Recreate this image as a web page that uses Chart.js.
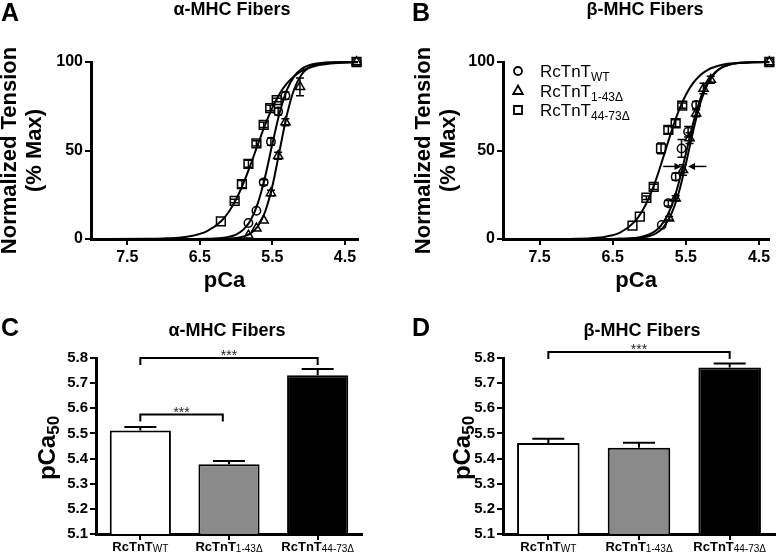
<!DOCTYPE html>
<html>
<head>
<meta charset="utf-8">
<script src="https://cdn.jsdelivr.net/npm/chart.js@4.4.1/dist/chart.umd.min.js"></script>
<style>
  body { margin: 0; background: #fff; width: 777px; height: 556px; overflow: hidden; position: relative;
         font-family: Arial, "Liberation Sans", sans-serif; }
  canvas { position: absolute; }
  .lbl { position: absolute; font-weight: bold; color: #000; line-height: 1; z-index: 2; }
  .letter { font-size: 25px; }
  .ttl { font-size: 18px; width: 200px; text-align: center; }
</style>
</head>
<body>
<div class="lbl letter" style="left:1px;top:0">A</div>
<div class="lbl letter" style="left:412px;top:0">B</div>
<div class="lbl letter" style="left:1px;top:315px">C</div>
<div class="lbl letter" style="left:412px;top:315px">D</div>
<div class="lbl ttl" style="left:132px;top:0">α-MHC Fibers</div>
<div class="lbl ttl" style="left:545px;top:0">β-MHC Fibers</div>
<div class="lbl ttl" style="left:127px;top:321px">α-MHC Fibers</div>
<div class="lbl ttl" style="left:542px;top:321px">β-MHC Fibers</div>

<canvas id="chartA" width="392" height="300" style="left:-2px;top:0"></canvas>
<canvas id="chartB" width="389" height="300" style="left:388px;top:0"></canvas>
<canvas id="chartC" width="390" height="256" style="left:0;top:300px"></canvas>
<canvas id="chartD" width="389" height="256" style="left:388px;top:300px"></canvas>

<script>
// ---- data ----
const pcaTicks = [7.5, 6.5, 5.5, 4.5];
const tensionTicks = [0, 50, 100];
const pcaMax = 8.0;

// panel A, alpha-MHC: measured points (pCa, % max tension, sem)
const aWtPca = [5.83, 5.72, 5.62, 5.52, 5.42, 5.32, 4.34];
const aWtT   = [9, 16, 32, 55, 72, 81, 100];
const aWtErr = [0, 0, 1.5, 2, 2, 2, 0];
const aD1Pca = [5.83, 5.72, 5.62, 5.52, 5.42, 5.32, 5.12, 4.34];
const aD1T   = [2, 6, 10.5, 26, 47, 66, 86, 100];
const aD1Err = [0, 0, 0, 1.5, 2, 2, 5, 0];
const aD2Pca = [6.21, 6.02, 5.92, 5.83, 5.72, 5.62, 5.53, 5.44, 4.34];
const aD2T   = [10, 21.5, 31, 42.5, 54, 64.5, 74, 78.5, 100];
const aD2Err = [0, 1, 2, 2, 1.5, 1.5, 1.5, 1, 0];

// panel A fitted curves, read at fixed pCa steps
const aFitPca = [8.0, 7.2, 7.0, 6.8, 6.6, 6.4, 6.2, 6.1, 6.0, 5.9, 5.8, 5.7, 5.6, 5.5, 5.4, 5.3, 5.2, 5.1, 5.0, 4.9, 4.8, 4.6, 4.32];
const aFitWt = [0, 0, 0, 0, 0.03, 0.13, 0.6, 1.2, 2.5, 5.3, 10.6, 20.3, 35.2, 53.8, 71.3, 84.2, 91.9, 96, 98.1, 99.1, 99.6, 99.9, 100];
const aFitD1 = [0, 0, 0, 0, 0, 0.02, 0.11, 0.26, 0.6, 1.4, 3.2, 7.2, 15.4, 29.9, 50, 70.1, 84.6, 92.8, 96.8, 98.6, 99.4, 99.9, 100];
const aFitD2 = [0, 0.1, 0.3, 0.7, 1.8, 4.4, 10.3, 15.4, 22.4, 31.4, 42, 53.5, 64.5, 74.2, 82, 87.9, 92, 94.8, 96.6, 97.9, 98.6, 99.45, 99.85];

// panel B, beta-MHC: measured points
const bWtPca = [5.83, 5.74, 5.64, 5.56, 5.47, 5.36, 4.36];
const bWtT   = [7.9, 20.2, 35.2, 51.2, 60.6, 75.7, 100];
const bWtErr = [0, 1.5, 2, 5, 3, 2, 0];
const bD1Pca = [5.73, 5.64, 5.54, 5.45, 5.36, 5.26, 5.16, 4.36];
const bD1T   = [11.7, 23, 39, 57, 71, 85, 90, 100];
const bD1Err = [1, 1.5, 3, 3, 2, 3, 2, 0];
const bD2Pca = [6.23, 6.13, 6.04, 5.94, 5.84, 5.74, 5.64, 5.55, 4.36];
const bD2T   = [7.5, 12.6, 23.3, 29.5, 51.2, 61.6, 65.4, 75.3, 100];
const bD2Err = [0, 0, 1, 1.5, 3, 2, 2, 1.5, 0];

const bFitPca = [8.0, 7.2, 7.0, 6.8, 6.6, 6.4, 6.2, 6.1, 6.0, 5.9, 5.8, 5.7, 5.6, 5.5, 5.4, 5.3, 5.2, 5.1, 5.0, 4.9, 4.8, 4.6, 4.36];
const bFitWt = [0, 0, 0, 0, 0.03, 0.15, 0.63, 1.3, 2.6, 5.1, 9.9, 18.3, 31.4, 48.3, 65.5, 79.5, 88.8, 94.2, 97.1, 98.6, 99.3, 99.8, 100];
const bFitD1 = [0, 0, 0, 0, 0.02, 0.08, 0.36, 0.8, 1.6, 3.4, 7, 14, 25.8, 42.5, 61.2, 77.1, 87.8, 93.9, 97.1, 98.6, 99.4, 99.9, 100];
const bFitD2 = [0, 0.05, 0.16, 0.45, 1.3, 3.6, 9.8, 15.5, 23.8, 34.6, 47.4, 60.4, 72.2, 81.5, 88.2, 92.7, 95.6, 97.3, 98.4, 99.1, 99.4, 99.8, 99.9];

// arrows in panel B (pCa from -> to, at tension level)
const arrowFrom = [5.81, 5.22];
const arrowTo = [5.56, 5.47];
const arrowLevel = 41;

// legend / groups
const groupMain = ['RcTnT', 'RcTnT', 'RcTnT'];
const groupSub = ['WT', '1-43Δ', '44-73Δ'];
const groupStyle = ['circle', 'triangle', 'rect'];

// pCa50 bars
const cPca50 = [5.512, 5.377, 5.731];
const cSem = [0.014, 0.013, 0.025];
const dPca50 = [5.462, 5.443, 5.762];
const dSem = [0.017, 0.02, 0.016];
const barFill = ['#ffffff', '#8a8a8a', '#000000'];

// significance brackets (category index from/to, level)
const cBrFrom = [0, 0], cBrTo = [2, 0.93], cBrLevel = [5.8, 5.575];
const dBrFrom = [0], dBrTo = [2], dBrLevel = [5.824];

const FONT = 'Arial, "Liberation Sans", sans-serif';
Chart.defaults.font.family = FONT;
Chart.defaults.color = '#000';

function pts(xs, ys) { return xs.map((x, i) => ({ x: x, y: ys[i] })); }

function marker(ctx, style, x, y) {
  ctx.beginPath();
  if (style === 'circle') ctx.arc(x, y, 4, 0, Math.PI * 2);
  else if (style === 'triangle') { ctx.moveTo(x, y - 5); ctx.lineTo(x + 4.8, y + 3.5); ctx.lineTo(x - 4.8, y + 3.5); ctx.closePath(); }
  else ctx.rect(x - 4, y - 4, 8, 8);
  ctx.stroke();
}

function subText(ctx, x, y, main, sub, mainFont, subFont, drop, align) {
  ctx.font = mainFont; const w1 = ctx.measureText(main).width;
  ctx.font = subFont; const w2 = ctx.measureText(sub).width;
  let x0 = align === 'center' ? x - (w1 + w2) / 2 : x;
  ctx.textAlign = 'left'; ctx.textBaseline = 'alphabetic';
  ctx.font = mainFont; ctx.fillText(main, x0, y);
  ctx.font = subFont; ctx.fillText(sub, x0 + w1, y + drop);
}

const errorBars = {
  id: 'errorBars',
  afterDatasetsDraw(chart) {
    const ctx = chart.ctx, ys = chart.scales.y;
    chart.data.datasets.forEach((ds, i) => {
      if (!ds.err) return;
      const meta = chart.getDatasetMeta(i);
      ctx.save(); ctx.strokeStyle = '#000'; ctx.lineWidth = 1.5;
      ds.err.forEach((e, j) => {
        if (!e) return;
        const p = meta.data[j], v = ds.data[j].y;
        const y1 = ys.getPixelForValue(v - e), y2 = ys.getPixelForValue(v + e);
        ctx.beginPath();
        ctx.moveTo(p.x, y1); ctx.lineTo(p.x, y2);
        ctx.moveTo(p.x - 4, y1); ctx.lineTo(p.x + 4, y1);
        ctx.moveTo(p.x - 4, y2); ctx.lineTo(p.x + 4, y2);
        ctx.stroke();
      });
      ctx.restore();
    });
  }
};

function curveChart(id, c) {
  const datasets = [];
  c.fits.forEach(f => datasets.push({
    data: pts(c.fitPca, f), showLine: true, borderColor: '#000', borderWidth: 2,
    pointRadius: 0, cubicInterpolationMode: 'monotone', clip: false
  }));
  c.points.forEach((p, k) => datasets.push({
    data: pts(p.pca, p.t), showLine: false, pointStyle: groupStyle[k],
    pointRadius: [4.2, 5.3, 6.2][k], pointBorderWidth: 1.5, borderColor: '#000',
    backgroundColor: 'rgba(0,0,0,0)', err: p.err, clip: false
  }));
  const grid = { drawOnChartArea: false, tickLength: 6, lineWidth: 2, color: '#000' };
  const border = { color: '#000', width: 3 };
  return new Chart(document.getElementById(id), {
    type: 'scatter',
    data: { datasets: datasets },
    options: {
      responsive: false, animation: false, events: [],
      layout: { padding: { left: 0, top: 62, right: c.padRight, bottom: 6 } },
      plugins: { legend: { display: false }, tooltip: { enabled: false } },
      scales: {
        x: {
          type: 'linear', reverse: true, min: c.xMin, max: pcaMax,
          afterBuildTicks: s => { s.ticks = pcaTicks.map(v => ({ value: v })); },
          ticks: { font: { size: 16, weight: 'bold' }, padding: 3, maxRotation: 0, callback: v => v.toFixed(1) },
          grid: grid, border: border,
          title: { display: true, text: 'pCa', font: { size: 22, weight: 'bold' }, padding: 0 },
          afterFit: s => { s.height = 55; }
        },
        y: {
          min: 0, max: 100,
          afterBuildTicks: s => { s.ticks = tensionTicks.map(v => ({ value: v })); },
          ticks: { font: { size: 16, weight: 'bold' }, padding: 2 },
          grid: grid, border: border,
          title: { display: true, text: ['Normalized Tension', '(% Max)'],
                   font: { size: 22, weight: 'bold', lineHeight: 1.12 }, padding: { top: c.yTitlePad, bottom: 0 } },
          afterFit: s => { s.width = c.yWidth; }
        }
      }
    },
    plugins: [errorBars].concat(c.extra || [])
  });
}

const panelBExtras = {
  id: 'panelBExtras',
  afterDraw(chart) {
    const ctx = chart.ctx, xs = chart.scales.x, ys = chart.scales.y, a = chart.chartArea;
    ctx.save();
    // legend
    ctx.strokeStyle = '#000'; ctx.fillStyle = '#000'; ctx.lineWidth = 1.8;
    groupMain.forEach((m, i) => {
      const base = a.top + 15 + i * 19.5;
      marker(ctx, groupStyle[i], a.left + 15, base - 6);
      subText(ctx, a.left + 37, base, m, groupSub[i], '17px ' + FONT, '12px ' + FONT, 4, 'left');
    });
    // arrows
    ctx.lineWidth = 1.5;
    const y = ys.getPixelForValue(arrowLevel);
    arrowFrom.forEach((f, i) => {
      const x1 = xs.getPixelForValue(f), x2 = xs.getPixelForValue(arrowTo[i]);
      const d = Math.sign(x2 - x1);
      ctx.beginPath(); ctx.moveTo(x1, y); ctx.lineTo(x2 - d * 4, y); ctx.stroke();
      ctx.beginPath(); ctx.moveTo(x2, y); ctx.lineTo(x2 - d * 7, y - 3.5); ctx.lineTo(x2 - d * 7, y + 3.5); ctx.closePath(); ctx.fill();
    });
    ctx.restore();
  }
};

curveChart('chartA', {
  xMin: 4.32, padRight: 32, yWidth: 93, yTitlePad: 0, fitPca: aFitPca,
  fits: [aFitWt, aFitD1, aFitD2],
  points: [{ pca: aWtPca, t: aWtT, err: aWtErr }, { pca: aD1Pca, t: aD1T, err: aD1Err }, { pca: aD2Pca, t: aD2T, err: aD2Err }]
});
curveChart('chartB', {
  xMin: 4.36, padRight: 6, yWidth: 115, yTitlePad: 24, fitPca: bFitPca,
  fits: [bFitWt, bFitD1, bFitD2],
  points: [{ pca: bWtPca, t: bWtT, err: bWtErr }, { pca: bD1Pca, t: bD1T, err: bD1Err }, { pca: bD2Pca, t: bD2T, err: bD2Err }],
  extra: [panelBExtras]
});

function barDecor(c) {
  return {
    id: 'barDecor',
    afterDatasetsDraw(chart) {
      const ctx = chart.ctx, xs = chart.scales.x, ys = chart.scales.y, a = chart.chartArea;
      const meta = chart.getDatasetMeta(0);
      ctx.save();
      ctx.strokeStyle = '#000'; ctx.fillStyle = '#000'; ctx.lineWidth = 2;
      // sem (upper only)
      c.values.forEach((v, j) => {
        const x = meta.data[j].x, y1 = ys.getPixelForValue(v), y2 = ys.getPixelForValue(v + c.sem[j]);
        ctx.beginPath(); ctx.moveTo(x, y1); ctx.lineTo(x, y2); ctx.moveTo(x - 16, y2); ctx.lineTo(x + 16, y2); ctx.stroke();
      });
      // brackets
      c.brFrom.forEach((f, i) => {
        const x1 = xs.getPixelForValue(f), x2 = xs.getPixelForValue(c.brTo[i]);
        const y = ys.getPixelForValue(c.brLevel[i]), yd = ys.getPixelForValue(c.brLevel[i] - 0.028);
        ctx.beginPath(); ctx.moveTo(x1, yd); ctx.lineTo(x1, y); ctx.lineTo(x2, y); ctx.lineTo(x2, yd); ctx.stroke();
        ctx.fillStyle = '#222'; ctx.font = '14px ' + FONT; ctx.textAlign = 'center'; ctx.textBaseline = 'alphabetic';
        ctx.fillText('***', (x1 + x2) / 2, y + 2);
        ctx.fillStyle = '#000';
      });
      // category labels with subscripts
      groupMain.forEach((m, j) => {
        subText(ctx, meta.data[j].x, a.bottom + 17, m, groupSub[j], 'bold 13px ' + FONT, '10px ' + FONT, 1, 'center');
      });
      // y title pCa50
      ctx.translate(a.left - c.titleOff, (a.top + a.bottom) / 2 + 2);
      ctx.rotate(-Math.PI / 2);
      subText(ctx, 0, 0, 'pCa', '50', 'bold 24px ' + FONT, 'bold 17px ' + FONT, 4, 'center');
      ctx.restore();
    }
  };
}

function barChart(id, c) {
  const grid = { drawOnChartArea: false, tickLength: 6, lineWidth: 2, color: '#000' };
  const border = { color: '#000', width: 3 };
  return new Chart(document.getElementById(id), {
    type: 'bar',
    data: {
      labels: groupMain.map((m, i) => m + groupSub[i]),
      datasets: [{ data: c.values, backgroundColor: barFill, borderColor: '#000', borderWidth: 2,
                   borderSkipped: false, barPercentage: 0.69, categoryPercentage: 1 }]
    },
    options: {
      responsive: false, animation: false, events: [],
      layout: { padding: { left: 0, top: 58, right: c.padRight, bottom: 2 } },
      plugins: { legend: { display: false }, tooltip: { enabled: false } },
      scales: {
        x: { grid: Object.assign({ offset: false }, grid), border: border,
             ticks: { callback: () => '' }, afterFit: s => { s.height = 20; } },
        y: { min: 5.1, max: 5.8,
             ticks: { stepSize: 0.1, font: { size: 15, weight: 'bold' }, padding: 2, callback: v => v.toFixed(1) },
             grid: grid, border: border, afterFit: s => { s.width = c.yWidth; } }
      }
    },
    plugins: [barDecor(c)]
  });
}

barChart('chartC', { values: cPca50, sem: cSem, padRight: 28, yWidth: 96, titleOff: 41,
                     brFrom: cBrFrom, brTo: cBrTo, brLevel: cBrLevel });
barChart('chartD', { values: dPca50, sem: dSem, padRight: 2, yWidth: 115, titleOff: 33,
                     brFrom: dBrFrom, brTo: dBrTo, brLevel: dBrLevel });
</script>
</body>
</html>
